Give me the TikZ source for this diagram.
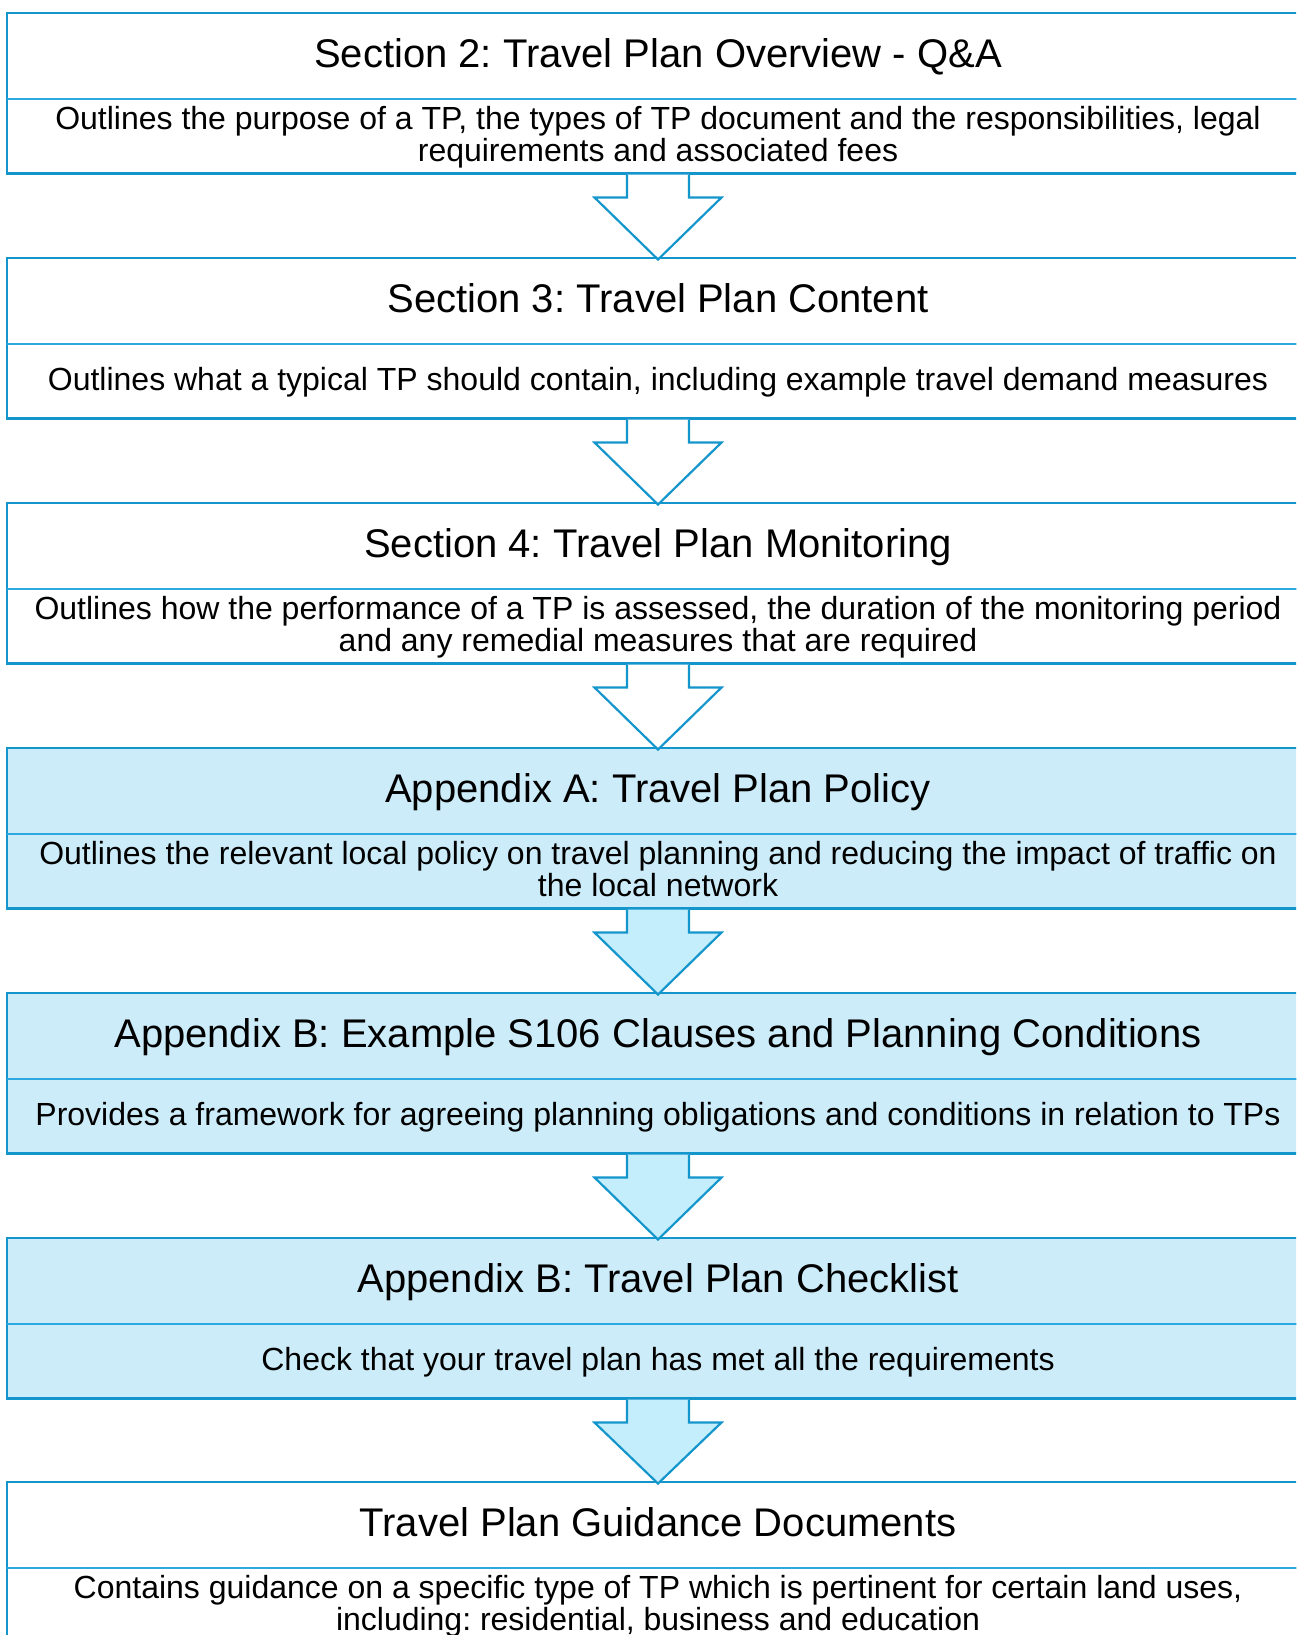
\documentclass[tikz,border=0pt]{standalone}
\usepackage{fontspec}
\setmainfont{Liberation Sans}
\frenchspacing
\usetikzlibrary{calc}
\definecolor{edgeblue}{RGB}{20,150,205}
\definecolor{divblue}{RGB}{43,169,224}
\definecolor{boxfill}{RGB}{204,236,249}
\definecolor{arrowfill}{RGB}{197,238,252}
\tikzset{
  hdr/.style={draw=edgeblue, line width=2.2pt, minimum width=1301.5pt, minimum height=86pt,
    inner sep=0pt, outer sep=0pt, anchor=north, align=center,
    font=\fontsize{40}{44}\selectfont, text height=29pt, text depth=6pt},
  bdy/.style={draw=edgeblue, line width=2.2pt, minimum width=1301.5pt, minimum height=74.5pt,
    inner sep=0pt, outer sep=0pt, anchor=north, align=center,
    font=\fontsize{32}{32.3}\selectfont, text height=23pt, text depth=4pt},
  twoline/.style={text height=55.3pt, text depth=4pt},
  divline/.style={draw=divblue, line width=2.2pt},
  flowarrow/.style={draw=edgeblue, line width=2.2pt, line join=miter},
  shaded/.style={fill=boxfill},
}
\begin{document}
\begin{tikzpicture}[x=1pt, y=-1pt]
\useasboundingbox (0,0) rectangle (1296,1635);
\clip (0,0) rectangle (1296,1635);
\fill[white] (0,0) rectangle (1296,1635);

\node[hdr] (h1) at (658,13) {Section 2: Travel Plan Overview - Q\&A};
\node[bdy, twoline] (b1) at (h1.south) {Outlines the purpose of a TP, the types of TP document and the responsibilities, legal\\requirements and associated fees};

\node[hdr] (h2) at (658,258) {Section 3: Travel Plan Content};
\node[bdy] (b2) at (h2.south) {Outlines what a typical TP should contain, including example travel demand measures};

\node[hdr] (h3) at (658,503) {Section 4: Travel Plan Monitoring};
\node[bdy, twoline] (b3) at (h3.south) {Outlines how the performance of a TP is assessed, the duration of the monitoring period\\and any remedial measures that are required};

\node[hdr, shaded] (h4) at (658,748) {Appendix A: Travel Plan Policy};
\node[bdy, shaded, twoline] (b4) at (h4.south) {Outlines the relevant local policy on travel planning and reducing the impact of traffic on\\the local network};

\node[hdr, shaded] (h5) at (658,993) {Appendix B: Example S106 Clauses and Planning Conditions};
\node[bdy, shaded] (b5) at (h5.south) {Provides a framework for agreeing planning obligations and conditions in relation to TPs};

\node[hdr, shaded] (h6) at (658,1238) {Appendix B: Travel Plan Checklist};
\node[bdy, shaded] (b6) at (h6.south) {Check that your travel plan has met all the requirements};

\node[hdr] (h7) at (658,1482) {Travel Plan Guidance Documents};
\node[bdy, twoline] (b7) at (h7.south) {Contains guidance on a specific type of TP which is pertinent for certain land uses,\\including: residential, business and education};

\foreach \i in {1,...,7}{
  \draw[divline] (h\i.south west) -- (h\i.south east);
}

\foreach \i/\j/\f in {1/2/white, 2/3/white, 3/4/white, 4/5/arrowfill, 5/6/arrowfill, 6/7/arrowfill}{
  \filldraw[flowarrow, fill=\f]
    ($(b\i.south)+(-31,1.1)$) -- ($(b\i.south)+(-31,24)$) -- ($(b\i.south)+(-63.5,24)$)
    -- ($(h\j.north)+(0,1.5)$)
    -- ($(b\i.south)+(63.5,24)$) -- ($(b\i.south)+(31,24)$) -- ($(b\i.south)+(31,1.1)$);
}
\end{tikzpicture}
\end{document}
